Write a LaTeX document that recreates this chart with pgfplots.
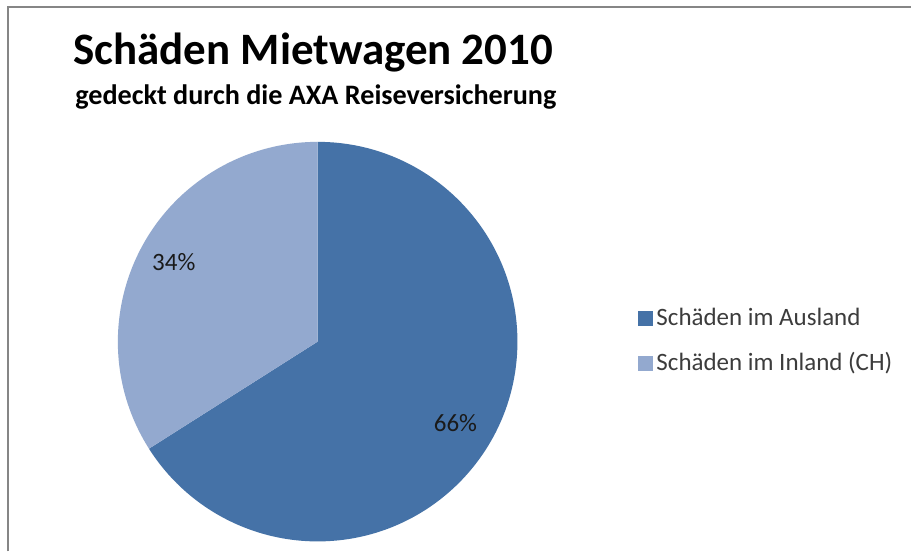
\documentclass[border=0pt]{standalone}
\usepackage{pgfplots}
\pgfplotsset{compat=1.18}
\usepackage{pgfplotstable}
\usepackage{fontspec}
\setmainfont{Carlito}
\definecolor{darkslice}{HTML}{4572A7}
\definecolor{lightslice}{HTML}{93A9CF}
\definecolor{frame}{HTML}{868686}
\definecolor{txt}{HTML}{1A1A1A}

\pgfplotstableread{
label value
Ausland 66
Inland 34
}\piedata

\pgfplotstablegetelem{0}{value}\of\piedata \let\va\pgfplotsretval
\pgfplotstablegetelem{1}{value}\of\piedata \let\vb\pgfplotsretval
\pgfmathsetmacro{\angA}{90-3.6*\va}
\pgfmathsetmacro{\angB}{\angA-3.6*\vb}

\begin{document}
\begin{tikzpicture}
\begin{axis}[
  x=0.5pt, y=0.5pt,
  xmin=0, xmax=912, ymin=0, ymax=552,
  hide axis, clip=false, scale only axis,
  legend style={draw=none, fill=none, font=\fontsize{12.5}{15}\selectfont, text=txt!85,
    at={(axis cs:632,252)}, anchor=north west, row sep=8pt,
    cells={anchor=west}},
  legend image code/.code={\fill[#1] (0pt,-3.5pt) rectangle (7pt,3.5pt);},
]
\path[fill=white] (axis cs:0,0) rectangle (axis cs:912,552);
\draw[frame, line width=1pt] (axis cs:8,0) -- (axis cs:8,545) -- (axis cs:912,545);
% pie slices
\fill[darkslice] (axis cs:318,210) -- ++(90:100pt) arc[start angle=90, end angle=\angA, radius=100pt] -- cycle;
\fill[lightslice] (axis cs:318,210) -- ++(\angA:100pt) arc[start angle=\angA, end angle=\angB, radius=100pt] -- cycle;
\addlegendimage{darkslice}
\addlegendentry{Schäden im Ausland}
\addlegendimage{lightslice}
\addlegendentry{Schäden im Inland (CH)}
% labels
\node[txt, font=\fontsize{12.5}{14}\selectfont] at (axis cs:456,128) {\va\%};
\node[txt, font=\fontsize{12.5}{14}\selectfont] at (axis cs:174,290) {\vb\%};
% titles
\node[anchor=base west, font=\bfseries\fontsize{22.5}{26}\selectfont, inner sep=0pt] at (axis cs:73,487) {Schäden Mietwagen 2010};
\node[anchor=base west, font=\bfseries\fontsize{14.1}{16}\selectfont, inner sep=0pt] at (axis cs:75,447) {gedeckt durch die AXA Reiseversicherung};
\end{axis}
\end{tikzpicture}
\end{document}
